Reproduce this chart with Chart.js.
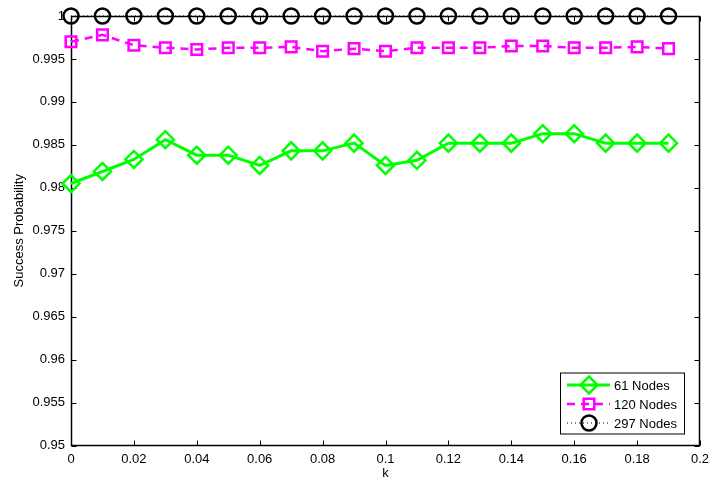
<!DOCTYPE html>
<html>
<head>
<meta charset="utf-8">
<script src="https://cdn.jsdelivr.net/npm/chart.js@4/dist/chart.umd.min.js"></script>
<style>
  html, body { margin: 0; padding: 0; background: #fff; }
  #wrap { width: 713px; height: 483px; }
</style>
</head>
<body>
<div id="wrap"><canvas id="c"></canvas></div>
<script>
// k values (x axis)
const kValues = [0, 0.01, 0.02, 0.03, 0.04, 0.05, 0.06, 0.07, 0.08, 0.09,
                 0.10, 0.11, 0.12, 0.13, 0.14, 0.15, 0.16, 0.17, 0.18, 0.19];

// success probability per network size
const nodes61 = [0.9805, 0.9819, 0.9833, 0.9856, 0.9838, 0.9838, 0.9826, 0.9843, 0.9843, 0.9852,
                 0.9826, 0.9832, 0.9852, 0.9852, 0.9852, 0.9863, 0.9863, 0.9852, 0.9852, 0.9852];
const nodes120 = [0.9970, 0.9978, 0.9966, 0.9963, 0.9961, 0.9963, 0.9963, 0.9964, 0.9959, 0.9962,
                  0.9959, 0.9963, 0.9963, 0.9963, 0.9965, 0.9965, 0.9963, 0.9963, 0.9964, 0.9962];
const nodes297 = [1, 1, 1, 1, 1, 1, 1, 1, 1, 1, 1, 1, 1, 1, 1, 1, 1, 1, 1, 1];

const seriesLabels = ['61 Nodes', '120 Nodes', '297 Nodes'];

const FONT = 'Liberation Sans, Arial, Helvetica, sans-serif';

const pts = vals => vals.map((v, i) => ({ x: kValues[i], y: v }));
const fmt = v => String(+Number(v).toFixed(4));

// MATLAB-like box with inward ticks on all four sides
const boxTicks = {
  id: 'boxTicks',
  beforeDatasetsDraw(chart) {
    const { ctx, chartArea: a, scales: { x, y } } = chart;
    const L = Math.round(a.left) + 0.5, R = Math.round(a.right) - 0.5;
    const T = Math.round(a.top) + 0.5, B = Math.round(a.bottom) - 0.5;
    const len = 5;
    ctx.save();
    ctx.strokeStyle = '#000';
    ctx.lineWidth = 1;
    ctx.beginPath();
    x.ticks.forEach(t => {
      const px = Math.round(x.getPixelForValue(t.value)) + 0.5;
      ctx.moveTo(px, B); ctx.lineTo(px, B - len);
      ctx.moveTo(px, T); ctx.lineTo(px, T + len);
    });
    y.ticks.forEach(t => {
      const py = Math.round(y.getPixelForValue(t.value)) + 0.5;
      ctx.moveTo(L, py); ctx.lineTo(L + len, py);
      ctx.moveTo(R, py); ctx.lineTo(R - len, py);
    });
    ctx.stroke();
    ctx.lineWidth = 1.5;
    ctx.strokeRect(L, T, R - L, B - T);
    ctx.restore();
  }
};

// legend box in the lower right, drawn from the dataset styles
const matLegend = {
  id: 'matLegend',
  afterDraw(chart) {
    const { ctx, chartArea: a } = chart;
    const bx = a.right - 140, by = a.bottom - 73, bw = 124, bh = 61;
    ctx.save();
    ctx.fillStyle = '#fff';
    ctx.fillRect(bx, by, bw, bh);
    ctx.strokeStyle = '#000';
    ctx.lineWidth = 1;
    ctx.strokeRect(bx + 0.5, by + 0.5, bw, bh);
    chart.data.datasets.forEach((ds, i) => {
      const yy = by + 12.5 + i * 19;
      ctx.save();
      ctx.strokeStyle = ds.borderColor;
      ctx.lineWidth = ds.borderWidth;
      ctx.setLineDash(ds.borderDash || []);
      ctx.beginPath();
      ctx.moveTo(bx + 7, yy);
      ctx.lineTo(bx + 50, yy);
      ctx.stroke();
      ctx.setLineDash([]);
      ctx.fillStyle = 'rgba(0,0,0,0)';
      ctx.lineWidth = ds.pointBorderWidth;
      Chart.helpers.drawPoint(ctx, {
        pointStyle: ds.pointStyle, radius: ds.pointRadius,
        rotation: 0, borderWidth: ds.pointBorderWidth
      }, bx + 29, yy);
      ctx.restore();
      ctx.fillStyle = '#000';
      ctx.font = '13px ' + FONT;
      ctx.textBaseline = 'middle';
      ctx.fillText(ds.label, bx + 54, yy + 1);
    });
    ctx.restore();
  }
};

new Chart(document.getElementById('c'), {
  type: 'line',
  data: {
    datasets: [
      {
        label: seriesLabels[0], data: pts(nodes61),
        borderColor: '#00ff00', borderWidth: 3,
        pointStyle: 'rectRot', pointRadius: 8.5, pointBorderWidth: 2.5,
        pointBorderColor: '#00ff00', pointBackgroundColor: 'rgba(0,0,0,0)',
        clip: false
      },
      {
        label: seriesLabels[1], data: pts(nodes120),
        borderColor: '#ff00ff', borderWidth: 2.5, borderDash: [8, 6],
        pointStyle: 'rect', pointRadius: 7.5, pointBorderWidth: 2.5,
        pointBorderColor: '#ff00ff', pointBackgroundColor: 'rgba(0,0,0,0)',
        clip: false
      },
      {
        label: seriesLabels[2], data: pts(nodes297),
        borderColor: '#000', borderWidth: 1, borderDash: [1, 3],
        pointStyle: 'circle', pointRadius: 7.5, pointBorderWidth: 2.5,
        pointBorderColor: '#000', pointBackgroundColor: 'rgba(0,0,0,0)',
        clip: false
      }
    ]
  },
  options: {
    responsive: true,
    maintainAspectRatio: false,
    animation: false,
    events: [],
    layout: { padding: { top: 16, right: 13, left: 0, bottom: 0 } },
    plugins: { legend: { display: false }, tooltip: { enabled: false } },
    scales: {
      x: {
        type: 'linear', min: 0, max: 0.2,
        grid: { display: false, drawTicks: false },
        border: { display: false },
        ticks: { stepSize: 0.02, padding: 6, color: '#000', font: { family: FONT, size: 13 }, callback: fmt, maxRotation: 0 },
        title: { display: true, text: 'k', color: '#000', font: { family: FONT, size: 13 }, padding: { top: 0, bottom: 2 } },
        afterFit: s => { s.height = 37.5; s.paddingRight = 0; s.paddingLeft = 0; }
      },
      y: {
        min: 0.95, max: 1,
        grid: { display: false, drawTicks: false },
        border: { display: false },
        ticks: { stepSize: 0.005, padding: 6, color: '#000', font: { family: FONT, size: 13 }, callback: fmt },
        title: { display: true, text: 'Success Probability', color: '#000', font: { family: FONT, size: 13 }, padding: { top: 12, bottom: 0 } },
        afterFit: s => { s.width = 71; s.paddingTop = 0; s.paddingBottom = 0; }
      }
    }
  },
  plugins: [boxTicks, matLegend]
});
</script>
</body>
</html>
